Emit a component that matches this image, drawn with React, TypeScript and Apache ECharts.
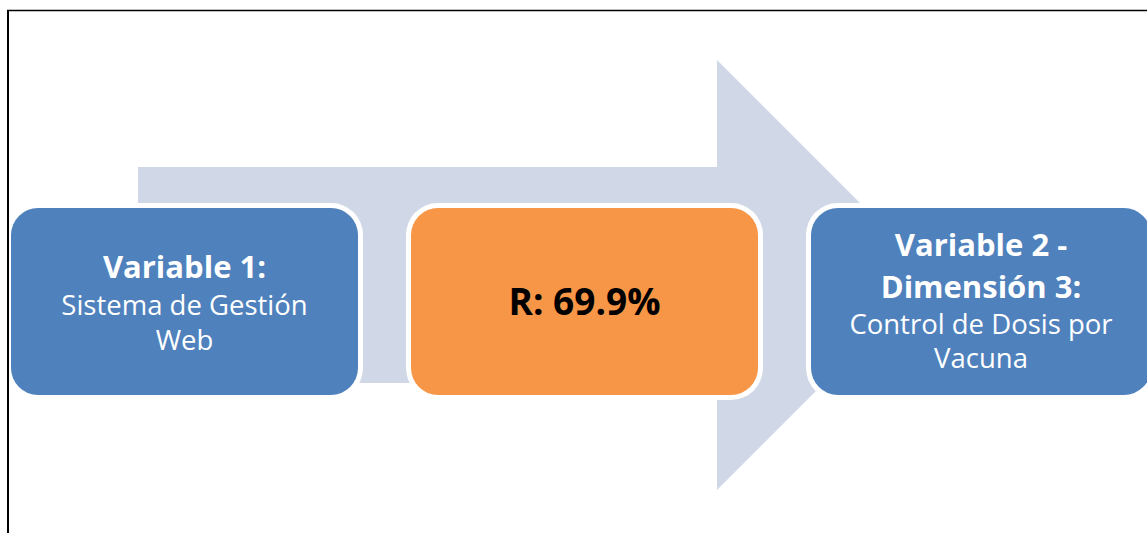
import React, { useEffect, useRef } from "react";
import * as echarts from "echarts";

// Diagram content
const nodeTitles: string[][] = [["Variable 1:"], ["R: 69.9%"], ["Variable 2 -", "Dimensión 3:"]];
const nodeDetails: string[][] = [["Sistema de Gestión", "Web"], [], ["Control de Dosis por", "Vacuna"]];

const COLORS = ["#4F81BD", "#F79646", "#4F81BD"];
const TEXT_COLORS = ["#FFFFFF", "#000000", "#FFFFFF"];
const ARROW_COLOR = "#D0D8E8";
const FONT = "'Open Sans', 'Noto Sans', sans-serif";

export default function App() {
  const ref = useRef<HTMLDivElement>(null);

  useEffect(() => {
    if (!ref.current) return;
    const chart = echarts.init(ref.current, undefined, { renderer: "svg" });

    // layout of boxes
    const boxes = [
      { x: 11, w: 347, titleSize: 31, detailSize: 27.5, baselines: [277, 314, 349] },
      { x: 411, w: 347, titleSize: 37, detailSize: 27.5, baselines: [314] },
      { x: 811, w: 340, titleSize: 31, detailSize: 27.5, baselines: [255, 297, 333, 367] },
    ];
    const boxTop = 208;
    const boxH = 187;
    const radius = 27;
    const halo = 5;

    const elements: any[] = [];

    // background arrow
    elements.push({
      type: "polygon",
      shape: {
        points: [
          [138, 167],
          [717, 167],
          [717, 60],
          [932, 275],
          [717, 490],
          [717, 383],
          [138, 383],
        ],
      },
      style: { fill: ARROW_COLOR },
      silent: true,
    });

    boxes.forEach((b, i) => {
      elements.push({
        type: "rect",
        shape: { x: b.x - halo, y: boxTop - halo, width: b.w + halo * 2, height: boxH + halo * 2, r: radius + halo },
        style: { fill: "#FFFFFF" },
        silent: true,
      });
      elements.push({
        type: "rect",
        shape: { x: b.x, y: boxTop, width: b.w, height: boxH, r: radius },
        style: { fill: COLORS[i] },
        silent: true,
      });
      const cx = b.x + b.w / 2;
      const lines: { t: string; bold: boolean }[] = [
        ...nodeTitles[i].map((t) => ({ t, bold: true })),
        ...nodeDetails[i].map((t) => ({ t, bold: false })),
      ];
      lines.forEach((ln, k) => {
        const size = ln.bold ? b.titleSize : b.detailSize;
        elements.push({
          type: "text",
          x: cx,
          y: b.baselines[k] - size * 0.36,
          style: {
            text: ln.t,
            fill: TEXT_COLORS[i],
            font: `${ln.bold ? "bold " : ""}${size}px ${FONT}`,
            fontFamily: FONT,
            fontSize: size,
            fontWeight: ln.bold ? "bold" : "normal",
            align: "center",
            verticalAlign: "middle",
          },
          silent: true,
        });
      });
    });

    // frame lines
    elements.push({
      type: "line",
      shape: { x1: 7, y1: 10.5, x2: 1147, y2: 10.5 },
      style: { stroke: "#000000", lineWidth: 1.5 },
      silent: true,
    });
    elements.push({
      type: "line",
      shape: { x1: 8, y1: 10, x2: 8, y2: 533 },
      style: { stroke: "#000000", lineWidth: 2 },
      silent: true,
    });

    chart.setOption({
      animation: false,
      backgroundColor: "#FFFFFF",
      graphic: { elements },
    });

    return () => chart.dispose();
  }, []);

  return (
    <div
      ref={ref}
      style={{ position: "fixed", left: 0, top: 0, width: 1147, height: 533 }}
    />
  );
}
